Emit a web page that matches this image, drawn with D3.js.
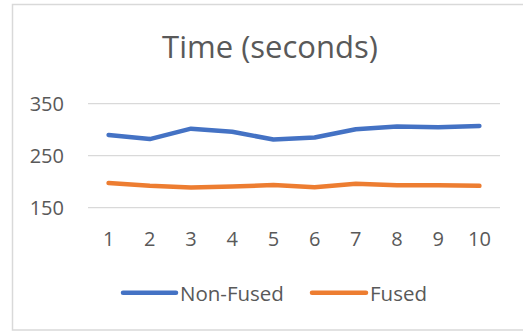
<!DOCTYPE html>
<html>
<head>
<meta charset="utf-8">
<script src="https://cdn.jsdelivr.net/npm/d3@7"></script>
<style>
  html, body { margin: 0; padding: 0; background: #ffffff; }
  svg { display: block; }
  text { font-family: "Open Sans", sans-serif; fill: #595959; }
</style>
</head>
<body>
<svg id="chart" width="523" height="332"></svg>
<script>
// Run numbers 1..10
const runs = ["1", "2", "3", "4", "5", "6", "7", "8", "9", "10"];
// Time in seconds per run
const nonFused = [290, 282, 302, 296, 281, 285, 301, 306, 304.5, 307];
const fused = [197.5, 192, 189, 191, 193.5, 189.5, 196, 193, 193, 192];
const yTicks = [150, 250, 350];
const seriesNames = ["Non-Fused", "Fused"];
const seriesColors = ["#4472C4", "#ED7D31"];

const svg = d3.select("#chart");

// Outer chart frame
svg.append("rect")
  .attr("x", 12.5).attr("y", 4.5)
  .attr("width", 516).attr("height", 325.5)
  .attr("fill", "#ffffff")
  .attr("stroke", "#d9d9d9")
  .attr("stroke-width", 1.5);

// Title
svg.append("text")
  .attr("x", 270).attr("y", 57.5)
  .attr("text-anchor", "middle")
  .style("font-size", "31px")
  .text("Time (seconds)");

const plot = { left: 88, right: 500, top: 103.7, bottom: 207.7 };

const x = d3.scaleBand().domain(runs).range([plot.left, plot.right]);
const y = d3.scaleLinear().domain([150, 350]).range([plot.bottom, plot.top]);

// Horizontal gridlines
svg.append("g")
  .selectAll("line")
  .data(yTicks)
  .join("line")
  .attr("x1", plot.left).attr("x2", plot.right)
  .attr("y1", d => y(d)).attr("y2", d => y(d))
  .attr("stroke", "#d9d9d9")
  .attr("stroke-width", 1.3);

// Y axis labels
const yAxis = svg.append("g")
  .attr("transform", `translate(${plot.left - 10},0)`)
  .call(d3.axisLeft(y).tickValues(yTicks).tickSize(0).tickPadding(14));
yAxis.select(".domain").remove();
yAxis.selectAll("text")
  .style("font-size", "20px")
  .style("font-family", "'Open Sans', sans-serif")
  .attr("fill", "#595959")
  .attr("dy", "0.36em");

// X axis labels
const xAxis = svg.append("g")
  .attr("transform", `translate(0,${plot.bottom})`)
  .call(d3.axisBottom(x).tickSize(0).tickPadding(24));
xAxis.select(".domain").remove();
xAxis.selectAll("text")
  .style("font-size", "20px")
  .style("font-family", "'Open Sans', sans-serif")
  .attr("fill", "#595959");

// Series lines
const line = d3.line()
  .x((d, i) => x(runs[i]) + x.bandwidth() / 2)
  .y(d => y(d));

[nonFused, fused].forEach((vals, k) => {
  svg.append("path")
    .datum(vals)
    .attr("d", line)
    .attr("fill", "none")
    .attr("stroke", seriesColors[k])
    .attr("stroke-width", 4.5)
    .attr("stroke-linejoin", "round")
    .attr("stroke-linecap", "round");
});

// Legend
const legendItems = [
  { name: seriesNames[0], color: seriesColors[0], x1: 123, x2: 176, tx: 180 },
  { name: seriesNames[1], color: seriesColors[1], x1: 312, x2: 366, tx: 370 }
];
const legend = svg.append("g");
legendItems.forEach(it => {
  legend.append("line")
    .attr("x1", it.x1).attr("x2", it.x2)
    .attr("y1", 292.7).attr("y2", 292.7)
    .attr("stroke", it.color)
    .attr("stroke-width", 4.5)
    .attr("stroke-linecap", "round");
  legend.append("text")
    .attr("x", it.tx).attr("y", 300.5)
    .style("font-size", "20.5px")
    .text(it.name);
});
</script>
</body>
</html>
